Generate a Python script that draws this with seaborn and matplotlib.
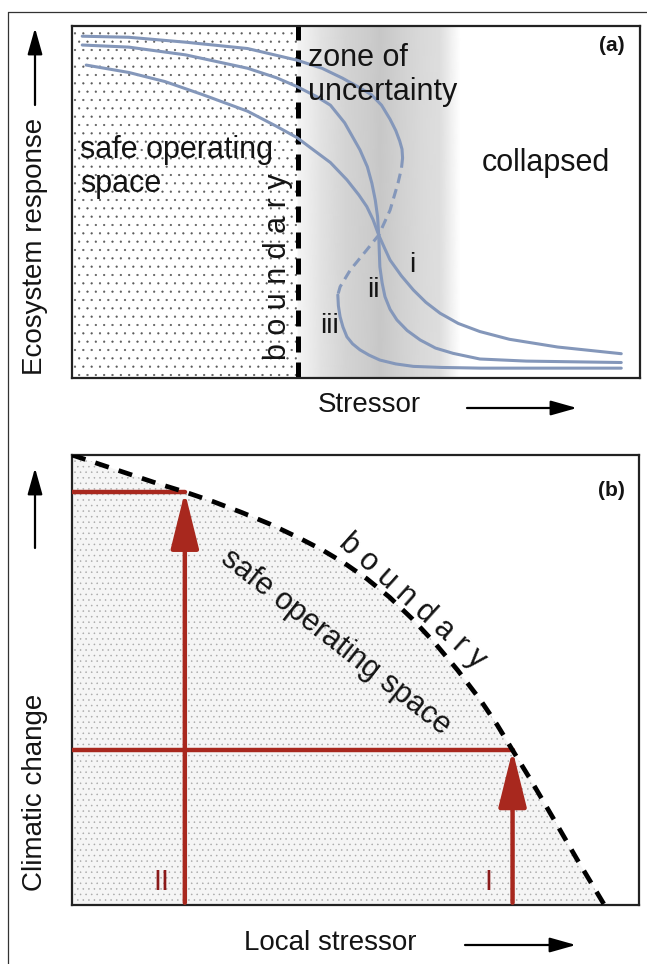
import seaborn as sns
import matplotlib.pyplot as plt
from matplotlib.lines import Line2D
from matplotlib.patches import FancyArrowPatch

# ---- panel (a): ecosystem response curves (percent of axes) ----
curve_i_x = [2.5, 10.0, 16.4, 23.0, 30.9, 36.0, 39.6, 42.5, 45.5, 48.4, 50.5, 51.9, 53.0,
             54.0, 55.0, 56.0, 58.0, 60.1, 62.3, 64.8, 68.0, 71.8, 77.0, 85.5, 96.7]
curve_i_y = [88.9, 86.8, 84.2, 80.5, 75.8, 71.5, 68.3, 64.8, 61.2, 56.3, 52.0, 48.7, 45.0,
             40.6, 37.0, 33.5, 29.0, 25.0, 21.5, 18.4, 15.5, 13.2, 11.0, 8.8, 6.9]

curve_ii_x = [1.8, 10.0, 20.0, 30.9, 36.0, 39.6, 43.0, 45.5, 48.0, 50.7, 52.0, 52.8, 53.4, 53.8,
              54.0, 54.1, 54.2, 54.6, 55.1, 56.0, 57.2, 59.0, 61.3, 64.0, 67.1, 71.8, 80.0, 96.7]
curve_ii_y = [94.6, 94.0, 91.8, 88.0, 85.3, 82.8, 80.0, 77.5, 72.5, 64.8, 60.0, 55.3, 50.5, 45.8,
              40.6, 36.0, 31.6, 27.0, 23.1, 19.5, 16.5, 13.5, 10.8, 8.5, 7.0, 5.4, 4.8, 4.4]

# curve iii folds back: upper branch, unstable (dashed) branch, lower branch
curve_iii_up_x = [1.8, 10.0, 20.0, 30.9, 39.6, 44.0, 47.6, 50.5, 52.7, 54.5, 56.0, 57.0, 57.7, 58.1, 58.2]
curve_iii_up_y = [97.1, 96.8, 95.4, 93.6, 90.3, 88.0, 85.2, 82.6, 80.5, 77.5, 73.5, 70.3, 67.3, 65.0, 62.5]
curve_iii_mid_x = [58.2, 58.0, 57.4, 56.0, 54.0, 51.9, 49.0, 47.2, 46.8]
curve_iii_mid_y = [62.5, 59.5, 55.4, 47.7, 40.6, 36.4, 30.7, 25.9, 23.6]
curve_iii_low_x = [46.8, 46.9, 47.2, 47.7, 48.4, 49.4, 50.7, 52.3, 54.2, 57.0, 60.1, 65.0, 72.0, 82.0, 96.7]
curve_iii_low_y = [23.6, 20.5, 17.4, 14.5, 11.7, 9.7, 8.0, 6.5, 5.1, 4.0, 3.3, 3.0, 2.8, 2.8, 2.8]

boundary_a = 39.8
# grey shading of the zone of uncertainty (x position, grey level)
zone_x = [39.8, 43.7, 48.1, 52.5, 54.2, 57.7, 61.3, 64.8, 66.5, 68.3]
zone_grey = [0.96, 0.89, 0.83, 0.80, 0.78, 0.82, 0.85, 0.87, 0.93, 1.0]

# ---- panel (b): boundary in climatic change / local stressor space ----
bound_x = [0, 5, 10, 15, 19.9, 25, 30, 35, 40, 44, 48, 52, 56, 60, 64, 68, 72, 75, 77.7,
           81, 85, 89, 92, 93.9]
bound_y = [100, 97.9, 95.8, 93.7, 91.8, 89.6, 87.2, 84.6, 81.6, 79.0, 76.0, 72.5, 68.4,
           63.6, 58.2, 52.2, 45.6, 40.0, 34.4, 27.6, 19.0, 10.3, 4.0, 0.0]
cases = ['II', 'I']
case_stressor = [19.9, 77.7]
case_climate = [91.8, 34.4]

W, H = 647, 964
CURVE = '#8497ba'
RED = '#a8281e'
DARK_RED = '#8b1a1a'
INK = '#141414'
FS = 22
FS_AX = 20

sns.set_theme(style='white')
plt.rcParams['font.family'] = ['Liberation Sans', 'DejaVu Sans']
plt.rcParams['text.color'] = INK
plt.rcParams['hatch.linewidth'] = 0.35

fig = plt.figure(figsize=(W / 100, H / 100), dpi=100)
ax_a = fig.add_axes([72 / W, 1 - 378 / H, 568 / W, 352 / H])
ax_b = fig.add_axes([72 / W, 1 - 905 / H, 567 / W, 450 / H])

for ax in (ax_a, ax_b):
    ax.set_xlim(0, 100)
    ax.set_ylim(0, 100)
    ax.set_xticks([])
    ax.set_yticks([])
    ax.set_xlabel('')
    ax.set_ylabel('')
    for s in ax.spines.values():
        s.set_color('#222222')
        s.set_linewidth(1.6)

# ---- panel (a) ----
ax_a.axvspan(0, boundary_a, facecolor='white', edgecolor='#5a5a5a', hatch='..', lw=0, zorder=0)
ax_a.pcolormesh([zone_x, zone_x], [[0] * len(zone_x), [100] * len(zone_x)],
                [zone_grey, zone_grey], shading='gouraud', cmap='gray', vmin=0, vmax=1, zorder=0)
ax_a.axvline(boundary_a, color='black', lw=3.6, linestyle=(0, (3.2, 2.0)), zorder=2)

line_kw = dict(ax=ax_a, sort=False, estimator=None, color=CURVE, lw=2.2, zorder=3)
sns.lineplot(x=curve_i_x, y=curve_i_y, **line_kw)
sns.lineplot(x=curve_ii_x, y=curve_ii_y, **line_kw)
sns.lineplot(x=curve_iii_up_x, y=curve_iii_up_y, **line_kw)
sns.lineplot(x=curve_iii_mid_x, y=curve_iii_mid_y, linestyle=(0, (3.2, 2.0)), **line_kw)
sns.lineplot(x=curve_iii_low_x, y=curve_iii_low_y, **line_kw)

ax_a.text(41.5, 86.0, 'zone of\nuncertainty', fontsize=FS, ha='left', va='center', linespacing=1.17)
ax_a.text(1.4, 60.0, 'safe operating\nspace', fontsize=FS, ha='left', va='center', linespacing=1.17)
ax_a.text(72.2, 61.0, 'collapsed', fontsize=FS, ha='left', va='center')
ax_a.text(36.3, 31.5, 'b o u n d a r y', fontsize=FS, rotation=90, ha='center', va='center')
ax_a.text(59.9, 32.0, 'i', fontsize=FS - 2, ha='center', va='center')
ax_a.text(53.0, 24.9, 'ii', fontsize=FS - 2, ha='center', va='center')
ax_a.text(45.4, 14.9, 'iii', fontsize=FS - 2, ha='center', va='center')
ax_a.text(95.1, 94.6, '(a)', fontsize=15, fontweight='bold', ha='center', va='center')

# ---- panel (b) ----
ax_b.fill(bound_x + [0], bound_y + [0], facecolor='#f5f5f5', edgecolor='#a8a8a8',
          hatch='...', lw=0, zorder=0)
sns.lineplot(x=bound_x, y=bound_y, ax=ax_b, sort=False, estimator=None, color='black',
             lw=3.4, linestyle=(0, (3.0, 2.2)), zorder=4)

for name, xs, yc in zip(cases, case_stressor, case_climate):
    sns.lineplot(x=[0, xs], y=[yc, yc], ax=ax_b, sort=False, estimator=None,
                 color=RED, lw=3.2, zorder=3)
    ax_b.annotate('', xy=(xs, yc), xytext=(xs, 0.5), zorder=3,
                  arrowprops=dict(arrowstyle='-|>,head_length=2.5,head_width=0.62',
                                  mutation_scale=14, lw=3.2, color=RED,
                                  shrinkA=0, shrinkB=0))
    ax_b.text(xs - 4.2, 5.1, name, color=DARK_RED, fontsize=FS - 1, ha='center', va='center')

ax_b.text(46.5, 58.5, 'safe operating space', fontsize=FS, rotation=-38,
          rotation_mode='anchor', ha='center', va='center')
ax_b.text(60.0, 67.5, 'b o u n d a r y', fontsize=FS, rotation=-42,
          rotation_mode='anchor', ha='center', va='center')
ax_b.text(95.2, 92.2, '(b)', fontsize=15, fontweight='bold', ha='center', va='center')

# ---- axis titles with arrows (figure pixels, measured from the top) ----
def fy(py):
    return 1 - py / H

fig.text(35 / W, fy(246), 'Ecosystem response', fontsize=FS_AX, rotation=90, ha='center', va='center')
fig.text(369 / W, fy(405), 'Stressor', fontsize=FS_AX, ha='center', va='center')
fig.text(35 / W, fy(792), 'Climatic change', fontsize=FS_AX, rotation=90, ha='center', va='center')
fig.text(330 / W, fy(943), 'Local stressor', fontsize=FS_AX, ha='center', va='center')

arrow_kw = dict(arrowstyle='-|>,head_length=1.6,head_width=0.45', mutation_scale=10,
                lw=1.6, color='black', shrinkA=0, shrinkB=0)
for tail, head in [((35, 105), (35, 28)), ((467, 408), (577, 408)),
                   ((35, 548), (35, 468)), ((465, 945), (576, 945))]:
    fig.add_artist(FancyArrowPatch((tail[0] / W, fy(tail[1])), (head[0] / W, fy(head[1])),
                                   transform=fig.transFigure, **arrow_kw))

# thin outer frame (left and top edges)
fig.add_artist(Line2D([8 / W, 8 / W], [0, fy(12)], transform=fig.transFigure, color='#333333', lw=0.9))
fig.add_artist(Line2D([8 / W, 1], [fy(12), fy(12)], transform=fig.transFigure, color='#333333', lw=0.9))

fig.savefig('out.png', dpi=100)
